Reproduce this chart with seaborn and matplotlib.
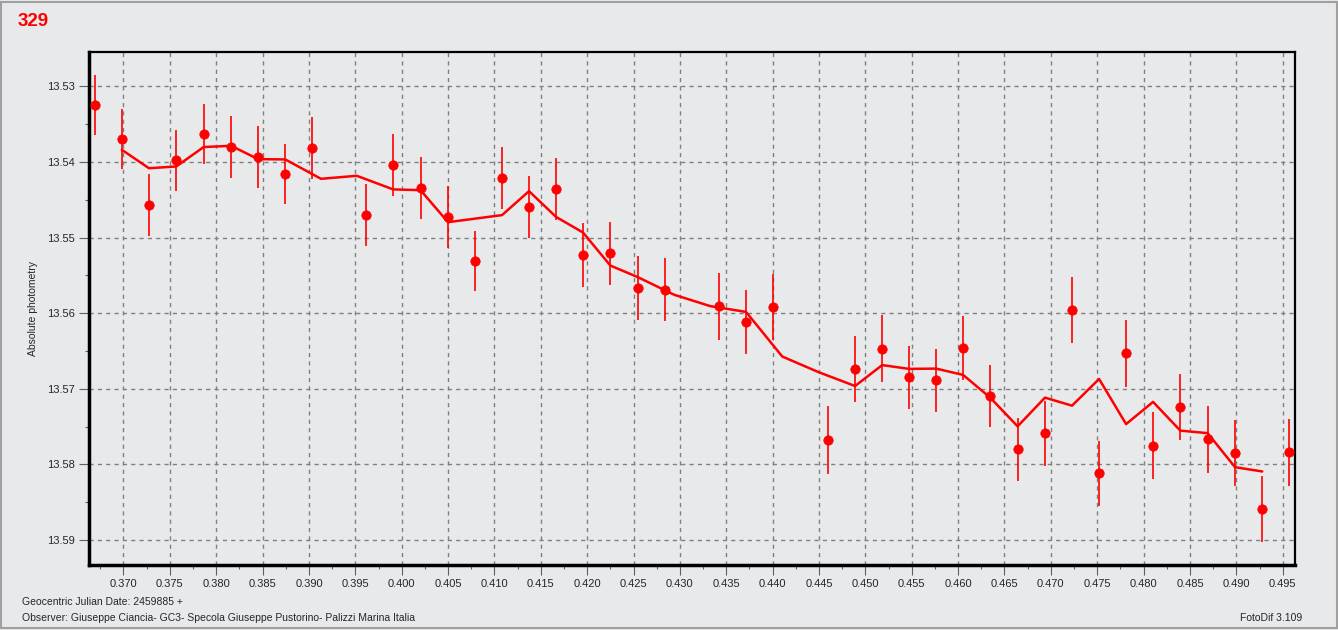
import numpy as np
import pandas as pd
import seaborn as sns
import matplotlib.pyplot as plt
from matplotlib.patches import Rectangle
from matplotlib.ticker import MultipleLocator, FormatStrFormatter

# Geocentric JD fraction (+2459885) and magnitudes
jd = [0.36689, 0.36984, 0.37275, 0.37566, 0.37868, 0.38159, 0.38454, 0.38745,
      0.39033, 0.39612, 0.39903, 0.40208, 0.40499, 0.40791, 0.41082, 0.41373,
      0.41664, 0.41955, 0.42246, 0.42548, 0.42843, 0.43425, 0.43713, 0.44001,
      0.44597, 0.44889, 0.45180, 0.45474, 0.45762, 0.46056, 0.46344, 0.46646,
      0.46934, 0.47229, 0.47520, 0.47811, 0.48102, 0.48393, 0.48692, 0.48987,
      0.49278, 0.49572]
mag = [13.5325, 13.5370, 13.5457, 13.5398, 13.5363, 13.5380, 13.5393, 13.5416,
       13.5381, 13.5470, 13.5404, 13.5435, 13.5473, 13.5531, 13.5421, 13.5459,
       13.5436, 13.5523, 13.5521, 13.5567, 13.5569, 13.5591, 13.5612, 13.5592,
       13.5768, 13.5674, 13.5647, 13.5685, 13.5689, 13.5646, 13.5710, 13.5780,
       13.5759, 13.5596, 13.5812, 13.5653, 13.5775, 13.5724, 13.5767, 13.5785,
       13.5859, 13.5784]
err = [0.0040, 0.0040, 0.0041, 0.0040, 0.0040, 0.0041, 0.0041, 0.0040,
       0.0041, 0.0041, 0.0041, 0.0041, 0.0041, 0.0040, 0.0041, 0.0041,
       0.0041, 0.0042, 0.0042, 0.0042, 0.0042, 0.0044, 0.0042, 0.0044,
       0.0045, 0.0044, 0.0044, 0.0042, 0.0042, 0.0042, 0.0041, 0.0042,
       0.0043, 0.0044, 0.0043, 0.0044, 0.0044, 0.0044, 0.0044, 0.0044,
       0.0044, 0.0044]

df = pd.DataFrame({"jd": jd, "mag": mag, "err": err})
# 3-point running mean (in time and magnitude)
smooth = df[["jd", "mag"]].rolling(3, center=True).mean().dropna()

bg = "#e8e9eb"
sns.set_style("ticks", {"axes.facecolor": bg, "figure.facecolor": bg,
                        "axes.edgecolor": "black"})
plt.rcParams["font.family"] = ["Liberation Sans", "DejaVu Sans"]

fig = plt.figure(figsize=(13.38, 6.3), dpi=100)
ax = fig.add_axes([0.0665, 0.1032, 0.9014, 0.8143])

ax.errorbar(df["jd"], df["mag"], yerr=df["err"], fmt="none",
            ecolor="red", elinewidth=1.2, capsize=0, zorder=3)
sns.lineplot(data=smooth, x="jd", y="mag", color="red", lw=1.8,
             sort=False, ax=ax, zorder=4)
sns.scatterplot(data=df, x="jd", y="mag", color="red", s=46,
                edgecolor="red", linewidth=0.5, ax=ax, zorder=5)

ax.set_xlim(0.36628, 0.49633)
ax.set_ylim(13.5933, 13.52546)
ax.xaxis.set_major_locator(MultipleLocator(0.005))
ax.xaxis.set_minor_locator(MultipleLocator(0.0025))
ax.yaxis.set_major_locator(MultipleLocator(0.01))
ax.yaxis.set_minor_locator(MultipleLocator(0.005))
ax.xaxis.set_major_formatter(FormatStrFormatter("%.3f"))
ax.yaxis.set_major_formatter(FormatStrFormatter("%.2f"))
ax.grid(False, which="minor")
ax.grid(True, which="major", color="#808080", lw=1.0, dashes=(3, 3))
ax.tick_params(which="major", length=7, width=0.8, color="#606060",
               labelsize=8, pad=3)
ax.tick_params(which="minor", length=3, width=0.8, color="#606060")

for side, lw in [("left", 2.5), ("bottom", 2.5), ("top", 1.6), ("right", 1.6)]:
    ax.spines[side].set_visible(True)
    ax.spines[side].set_linewidth(lw)
    ax.spines[side].set_color("black")

ax.set_xlabel("")
ax.set_ylabel("Absolute photometry", fontsize=7.5)
ax.yaxis.set_label_coords(-0.0423, 0.5)

fig.text(0.0135, 0.966, "329", color="red", fontsize=13.5,
         fontweight="bold", va="center", ha="left")
fig.text(0.0164, 0.0444, "Geocentric Julian Date: 2459885 +", fontsize=7.5,
         va="center", ha="left")
fig.text(0.0164, 0.0190,
         "Observer: Giuseppe Ciancia- GC3- Specola Giuseppe Pustorino- Palizzi Marina Italia",
         fontsize=7.5, va="center", ha="left")
fig.text(0.9731, 0.0190, "FotoDif 3.109", fontsize=7.5, va="center", ha="right")

fig.patches.append(Rectangle((0.0008, 0.003), 0.9984, 0.994,
                             transform=fig.transFigure, fill=False,
                             edgecolor="#a0a0a0", lw=1.5))

fig.savefig("out.png", dpi=100, facecolor=bg)
